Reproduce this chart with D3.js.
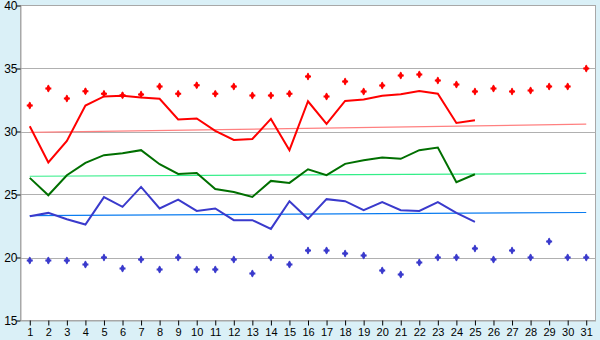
<!DOCTYPE html>
<html lang="en">
<head>
  <meta charset="utf-8">
  <title>Monthly temperatures</title>
  <script src="https://cdn.jsdelivr.net/npm/d3@7/dist/d3.min.js"></script>
  <style>
    * { box-sizing: border-box; margin: 0; padding: 0; }
    body { background: #daf0f7; overflow: hidden; }
    svg { display: block; font-family: "DejaVu Sans", sans-serif; }
  </style>
</head>
<body>
  <svg id="chart" width="600" height="340"></svg>

  <script>
    const days = d3.range(1, 32)

    // red series
    const redDots = [32.06, 33.41, 32.62, 33.2, 33.0, 32.88, 32.94, 33.57, 33.0, 33.67,
      33.0, 33.57, 32.86, 32.86, 33.0, 34.37, 32.78, 33.97, 33.17, 33.65,
      34.44, 34.52, 34.05, 33.73, 33.17, 33.41, 33.17, 33.25, 33.57, 33.57, 35.0]
    const redLine = [30.42, 27.54, 29.25, 32.06, 32.78, 32.84, 32.7, 32.6, 30.95, 31.03,
      30.05, 29.33, 29.41, 31.0, 28.52, 32.4, 30.6, 32.43, 32.54, 32.83,
      32.96, 33.22, 33.0, 30.68, 30.9]
    const redTrend = [29.93, 30.58]

    // green series
    const greenLine = [26.32, 24.94, 26.53, 27.51, 28.12, 28.28, 28.52, 27.4, 26.63, 26.71,
      25.44, 25.2, 24.81, 26.08, 25.92, 27.0, 26.53, 27.43, 27.72, 27.94,
      27.83, 28.52, 28.73, 25.98, 26.61]
    const greenTrend = [26.45, 26.67]

    // blue series
    const blueLine = [23.28, 23.54, 23.04, 22.62, 24.79, 24.02, 25.6, 23.89, 24.6, 23.7,
      23.89, 22.96, 22.96, 22.27, 24.47, 23.07, 24.63, 24.47, 23.75, 24.39,
      23.75, 23.7, 24.39, 23.54, 22.83]
    const blueTrend = [23.33, 23.57]
    const blueDots = [19.76, 19.76, 19.76, 19.44, 20.0, 19.13, 19.84, 19.05, 20.0, 19.05,
      19.05, 19.84, 18.73, 20.0, 19.44, 20.56, 20.56, 20.32, 20.16, 18.97,
      18.65, 19.6, 20.0, 20.0, 20.71, 19.84, 20.56, 20.0, 21.27, 20.0, 20.0]

    const yTicks = [15, 20, 25, 30, 35, 40]

    const svg = d3.select('#chart')
    const plotL = 20.5, plotR = 595.5, plotT = 5.5, plotB = 320.5

    const x = d3.scalePoint().domain(days).range([plotL, plotR]).padding(0.5)
    const y = d3.scaleLinear().domain([15, 40]).range([plotB, plotT])

    svg.append('rect')
      .attr('x', plotL).attr('y', plotT)
      .attr('width', plotR - plotL).attr('height', plotB - plotT)
      .attr('fill', 'white').attr('stroke', '#a8a8a8')

    svg.append('g')
      .selectAll('line')
      .data(yTicks.slice(1, -1))
      .join('line')
      .attr('x1', plotL).attr('x2', plotR)
      .attr('y1', d => Math.round(y(d)) + 0.5).attr('y2', d => Math.round(y(d)) + 0.5)
      .attr('stroke', '#b0b0b0')

    const yAxis = svg.append('g')
      .attr('transform', `translate(${plotL},0)`)
      .call(d3.axisLeft(y).tickValues(yTicks).tickSize(4).tickSizeOuter(0))
    yAxis.select('.domain').attr('stroke', '#a8a8a8')
    yAxis.selectAll('.tick line').attr('stroke', '#000')
    yAxis.selectAll('.tick text').attr('font-size', 12).attr('fill', '#000').attr('x', -3)

    const xAxis = svg.append('g')
      .attr('transform', `translate(0,${plotB})`)
      .call(d3.axisBottom(x).tickSize(5).tickSizeOuter(0))
    xAxis.select('.domain').attr('stroke', '#a8a8a8')
    xAxis.selectAll('.tick line').attr('stroke', '#000')
    xAxis.selectAll('.tick text').attr('font-size', 11).attr('fill', '#000').attr('y', 8)

    const line = d3.line().x((d, i) => x(days[i])).y(d => y(d))
    const trend = d3.line().x((d, i) => x(i === 0 ? days[0] : days[days.length - 1])).y(d => y(d))

    const trends = [[redTrend, '#ff8080'], [greenTrend, '#33ee88'], [blueTrend, '#0a7cf0']]
    svg.append('g')
      .selectAll('path')
      .data(trends)
      .join('path')
      .attr('d', d => trend(d[0]))
      .attr('fill', 'none')
      .attr('stroke', d => d[1])
      .attr('stroke-width', 1.2)

    const lines = [[redLine, '#ff0000'], [greenLine, '#006f00'], [blueLine, '#3a3acc']]
    svg.append('g')
      .selectAll('path')
      .data(lines)
      .join('path')
      .attr('d', d => line(d[0]))
      .attr('fill', 'none')
      .attr('stroke', d => d[1])
      .attr('stroke-width', 2)

    // markers: a small diamond over a cross, like the original's stubby plus
    const diamond = d3.symbol().type(d3.symbolDiamond).size(18)
    const cross = d3.symbol().type(d3.symbolCross).size(20)
    const dots = [[redDots, '#ff0000'], [blueDots, '#3a3acc']]
    dots.forEach(([vals, color]) => {
      const g = svg.append('g')
        .selectAll('g')
        .data(vals)
        .join('g')
        .attr('transform', (d, i) => `translate(${x(days[i])},${y(d)})`)
        .attr('fill', color)
      g.append('path').attr('d', cross)
      g.append('path').attr('d', diamond)
    })
  </script>
</body>
</html>
